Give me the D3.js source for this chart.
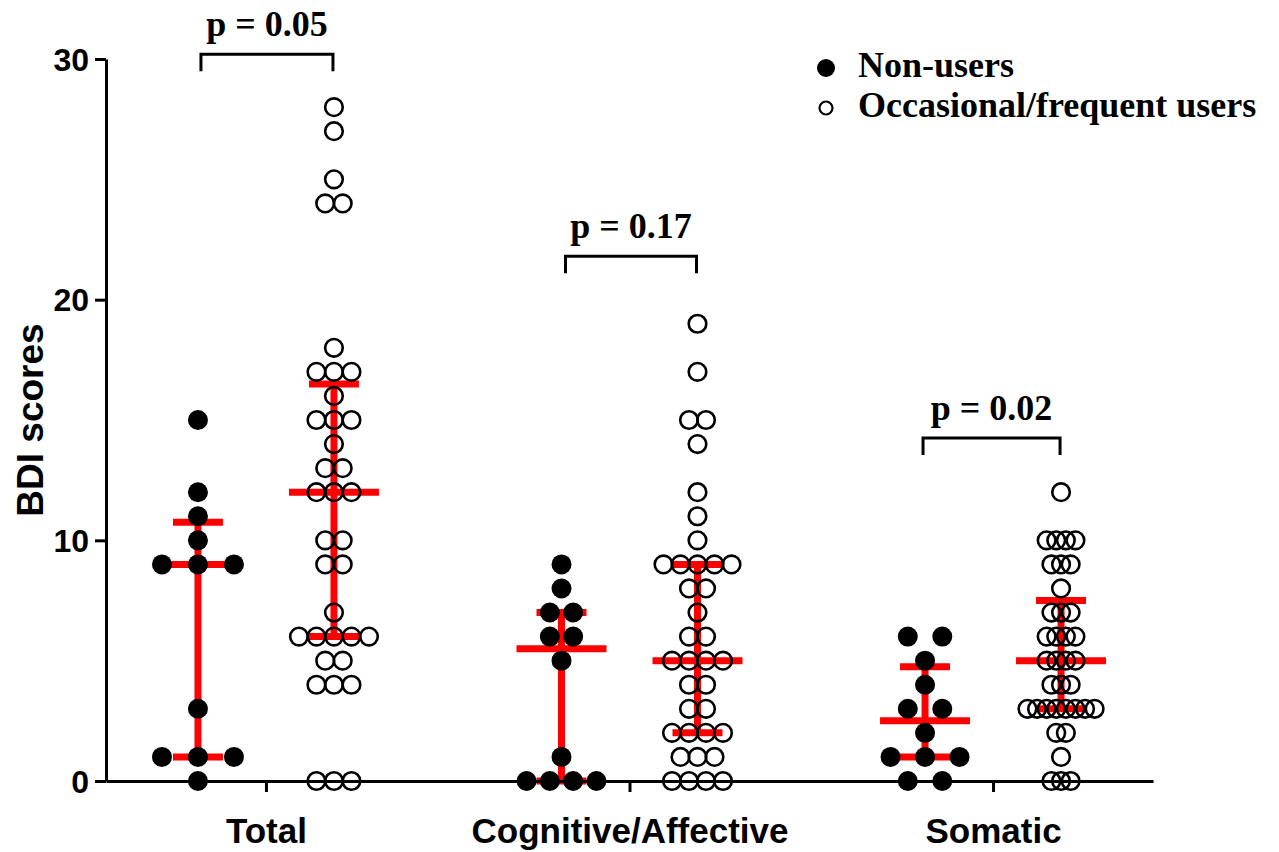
<!DOCTYPE html>
<html>
<head>
<meta charset="utf-8">
<script src="https://cdn.jsdelivr.net/npm/d3@7"></script>
<style>
  body { margin: 0; background: #fff; }
  svg { display: block; }
</style>
</head>
<body>
<script>
// BDI scores per subscale
const categories = ["Total", "Cognitive/Affective", "Somatic"]
const groups = ["Non-users", "Occasional/frequent users"]

const totalNonUsers = [15, 12, 11, 10, 9, 9, 9, 3, 1, 1, 1, 0]
const totalUsers = [28, 27, 25, 24, 24, 18, 17, 17, 17, 16, 15, 15, 15, 14, 13, 13, 12, 12, 12,
  10, 10, 9, 9, 7, 6, 6, 6, 6, 6, 5, 5, 4, 4, 4, 0, 0, 0]
const cogNonUsers = [9, 8, 7, 7, 6, 6, 5, 1, 0, 0, 0, 0]
const cogUsers = [19, 17, 15, 15, 14, 12, 11, 10, 9, 9, 9, 9, 9, 8, 8, 7, 6, 6, 5, 5, 5, 5,
  4, 4, 3, 3, 2, 2, 2, 2, 1, 1, 1, 0, 0, 0, 0]
const somNonUsers = [6, 6, 5, 4, 3, 3, 2, 1, 1, 1, 0, 0]
const somUsers = [12, 10, 10, 10, 10, 9, 9, 9, 8, 7, 7, 7, 6, 6, 6, 6, 5, 5, 5, 5, 4, 4, 4,
  3, 3, 3, 3, 3, 3, 3, 3, 2, 2, 1, 0, 0, 0]

// median and interquartile range drawn in red
const medianNonUsers = [9, 5.5, 2.5]
const q1NonUsers = [1, 0, 1]
const q3NonUsers = [10.75, 7, 4.75]
const medianUsers = [12, 5, 5]
const q1Users = [6, 2, 3]
const q3Users = [16.5, 9, 7.5]

const pValues = ["p = 0.05", "p = 0.17", "p = 0.02"]
const bracketLevel = [30.2, 21.8, 14.25]
const yTicks = [0, 10, 20, 30]

const w = 1279
const h = 852
const svg = d3.select("body").append("svg").attr("width", w).attr("height", h)

const x = d3.scalePoint().domain(categories).range([106, 1153]).padding(0.44)
const y = d3.scaleLinear().domain([0, 30]).range([781, 59])
const shift = 68 // half distance between the two groups of a category

// horizontal spacing of dots in each column (non-users, users)
const spacing = [[36, 17.5], [23.3, 17], [34.5, 9.6]]

const series = [
  [totalNonUsers, totalUsers],
  [cogNonUsers, cogUsers],
  [somNonUsers, somUsers],
]

function layout(values, cx, step) {
  const rows = d3.group(values, (v) => v)
  const pts = []
  rows.forEach((arr, v) => {
    arr.forEach((d, i) => {
      pts.push({ v: v, x: cx + (i - (arr.length - 1) / 2) * step })
    })
  })
  return pts
}

// red median / IQR
const stats = []
categories.forEach((c, i) => {
  stats.push({ cx: x(c) - shift, med: medianNonUsers[i], lo: q1NonUsers[i], hi: q3NonUsers[i] })
  stats.push({ cx: x(c) + shift, med: medianUsers[i], lo: q1Users[i], hi: q3Users[i] })
})

const red = svg.append("g").attr("stroke", "#ff0000").attr("stroke-width", 7)
red.selectAll(".iqr").data(stats).enter().append("line")
  .attr("x1", (d) => d.cx).attr("x2", (d) => d.cx)
  .attr("y1", (d) => y(d.lo)).attr("y2", (d) => y(d.hi))
red.selectAll(".q1").data(stats).enter().append("line")
  .attr("x1", (d) => d.cx - 25).attr("x2", (d) => d.cx + 25)
  .attr("y1", (d) => y(d.lo)).attr("y2", (d) => y(d.lo))
red.selectAll(".q3").data(stats).enter().append("line")
  .attr("x1", (d) => d.cx - 25).attr("x2", (d) => d.cx + 25)
  .attr("y1", (d) => y(d.hi)).attr("y2", (d) => y(d.hi))
red.selectAll(".med").data(stats).enter().append("line")
  .attr("x1", (d) => d.cx - 45).attr("x2", (d) => d.cx + 45)
  .attr("y1", (d) => y(d.med)).attr("y2", (d) => y(d.med))

// axes
const yAxis = svg.append("g")
  .attr("transform", "translate(106,0)")
  .call(d3.axisLeft(y).tickValues(yTicks).tickSize(11).tickSizeOuter(0).tickPadding(6))
yAxis.selectAll("path, line").attr("stroke", "#000").attr("stroke-width", 3)
yAxis.selectAll("text")
  .attr("font-family", "Liberation Sans, Arial, sans-serif")
  .attr("font-weight", "bold").attr("font-size", 32).attr("fill", "#000")
  .attr("dy", "0.35em")

const xAxis = svg.append("g")
  .attr("transform", "translate(0,781)")
  .call(d3.axisBottom(x).tickSize(11).tickSizeOuter(0).tickPadding(26))
xAxis.selectAll("path, line").attr("stroke", "#000").attr("stroke-width", 3)
xAxis.selectAll("text")
  .attr("font-family", "Liberation Sans, Arial, sans-serif")
  .attr("font-weight", "bold").attr("font-size", 35).attr("fill", "#000")

svg.append("text")
  .attr("transform", "translate(43,420) rotate(-90)")
  .attr("text-anchor", "middle")
  .attr("font-family", "Liberation Sans, Arial, sans-serif")
  .attr("font-weight", "bold").attr("font-size", 37)
  .text("BDI scores")

// dots
categories.forEach((c, i) => {
  const nu = layout(series[i][0], x(c) - shift, spacing[i][0])
  const ou = layout(series[i][1], x(c) + shift, spacing[i][1])
  svg.append("g").selectAll("circle").data(nu).enter().append("circle")
    .attr("cx", (d) => d.x).attr("cy", (d) => y(d.v)).attr("r", 10)
    .attr("fill", "#000")
  svg.append("g").selectAll("circle").data(ou).enter().append("circle")
    .attr("cx", (d) => d.x).attr("cy", (d) => y(d.v)).attr("r", 8.8)
    .attr("fill", "none").attr("stroke", "#000").attr("stroke-width", 2.6)
})

// significance brackets
const legOffset = [3, 4, -2]
categories.forEach((c, i) => {
  const x1 = x(c) - shift + legOffset[i]
  const x2 = x(c) + shift - 1
  const top = y(bracketLevel[i])
  svg.append("path")
    .attr("d", `M${x1},${top + 17}V${top}H${x2}V${top + 17}`)
    .attr("fill", "none").attr("stroke", "#000").attr("stroke-width", 3)
  svg.append("text")
    .attr("x", (x1 + x2) / 2).attr("y", top - 18)
    .attr("text-anchor", "middle")
    .attr("font-family", "Liberation Serif, Times New Roman, serif")
    .attr("font-weight", "bold").attr("font-size", 36)
    .text(pValues[i])
})

// legend
const legend = svg.append("g")
legend.append("circle").attr("cx", 826).attr("cy", 68).attr("r", 9).attr("fill", "#000")
legend.append("circle").attr("cx", 826).attr("cy", 108).attr("r", 6.5)
  .attr("fill", "none").attr("stroke", "#000").attr("stroke-width", 2.2)
legend.selectAll("text").data(groups).enter().append("text")
  .attr("x", 858).attr("y", (d, i) => 77 + i * 40)
  .attr("font-family", "Liberation Serif, Times New Roman, serif")
  .attr("font-weight", "bold").attr("font-size", 36)
  .text((d) => d)
</script>
</body>
</html>
